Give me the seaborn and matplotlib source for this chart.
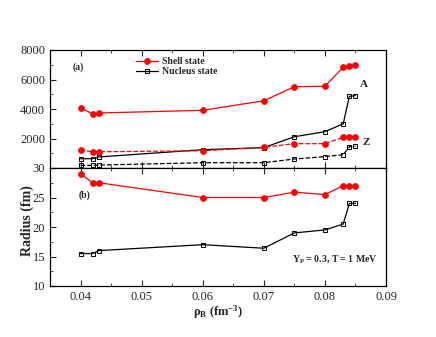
import numpy as np
import pandas as pd
import matplotlib
matplotlib.use("Agg")
import matplotlib.pyplot as plt
from matplotlib.ticker import MultipleLocator, FixedLocator
import seaborn as sns

# ---- data ----
rho_b = [0.040, 0.042, 0.043, 0.060, 0.070, 0.075, 0.080, 0.083, 0.084, 0.085]
shell_A = [4090, 3660, 3730, 3910, 4560, 5510, 5540, 6830, 6900, 7000]
shell_Z = [1220, 1100, 1100, 1170, 1400, 1650, 1650, 2080, 2100, 2100]
nucleus_A = [630, 630, 750, 1240, 1380, 2120, 2460, 3000, 4860, 4900]
nucleus_Z = [180, 180, 200, 360, 360, 610, 770, 900, 1440, 1470]
shell_radius = [29.0, 27.5, 27.5, 25.0, 25.0, 25.9, 25.5, 27.0, 27.0, 27.0]
nucleus_radius = [15.5, 15.5, 16.0, 17.0, 16.4, 19.0, 19.5, 20.5, 24.0, 24.0]
x_ticks = [0.04, 0.05, 0.06, 0.07, 0.08, 0.09]
top_yticks = [2000, 4000, 6000, 8000]
bot_yticks = [10, 15, 20, 25, 30]

sns.set_theme(style="ticks")
plt.rcParams['font.family'] = ['Liberation Serif', 'DejaVu Serif']
plt.rcParams['mathtext.fontset'] = 'custom'
plt.rcParams['mathtext.rm'] = 'Liberation Serif'
plt.rcParams['mathtext.bf'] = 'Liberation Serif:bold'
plt.rcParams['mathtext.it'] = 'Liberation Serif:italic'

fig = plt.figure(figsize=(4.36, 3.37), dpi=100)
ax1 = fig.add_axes([50/436, 1-168/337, 336/436, 118/337])
ax2 = fig.add_axes([50/436, 1-286/337, 336/436, 118/337])

RED = '#ff0000'
lw = 0.9
circ = dict(marker='o', markersize=4.3, markerfacecolor=RED, markeredgecolor=RED, markeredgewidth=0.5)
sq = dict(marker='s', markersize=3.4, markerfacecolor='none', markeredgecolor='black', markeredgewidth=0.7)

df = pd.DataFrame(dict(rho=rho_b, sA=shell_A, sZ=shell_Z, nA=nucleus_A, nZ=nucleus_Z,
                       sR=shell_radius, nR=nucleus_radius))

sns.lineplot(data=df, x='rho', y='sA', ax=ax1, color=RED, lw=lw, label='Shell state', **circ)
sns.lineplot(data=df, x='rho', y='nA', ax=ax1, color='black', lw=lw, label='Nucleus state', **sq)
sns.lineplot(data=df, x='rho', y='sZ', ax=ax1, color=RED, lw=lw, linestyle='--', **circ)
sns.lineplot(data=df, x='rho', y='nZ', ax=ax1, color='black', lw=lw, linestyle='--', **sq)

sns.lineplot(data=df, x='rho', y='sR', ax=ax2, color=RED, lw=lw, **circ)
sns.lineplot(data=df, x='rho', y='nR', ax=ax2, color='black', lw=lw, **sq)

for ax in (ax1, ax2):
    ax.set_xlim(0.035, 0.09)
    ax.xaxis.set_major_locator(FixedLocator(x_ticks))
    ax.xaxis.set_minor_locator(MultipleLocator(0.005))
    ax.tick_params(which='both', direction='in', top=True, right=False, labelsize=9)
    ax.tick_params(which='major', length=4, width=0.8)
    ax.tick_params(which='minor', length=2, width=0.6)
    for s in ax.spines.values():
        s.set_linewidth(0.9)
        s.set_color('black')
    ax.set_xlabel('')
    ax.set_ylabel('')

ax1.set_ylim(0, 8000)
ax1.yaxis.set_major_locator(FixedLocator(top_yticks))
ax1.yaxis.set_minor_locator(MultipleLocator(1000))
ax1.tick_params(labelbottom=False)

ax2.set_ylim(10, 30)
ax2.yaxis.set_major_locator(FixedLocator(bot_yticks))
ax2.yaxis.set_minor_locator(MultipleLocator(2.5))
ax2.set_xticklabels(['0.04', '0.05', '0.06', '0.07', '0.08', '0.09'])

leg = ax1.legend(loc='upper left', bbox_to_anchor=(0.24, 0.99), frameon=False,
                 prop=dict(weight='bold', size=7), handlelength=2.2,
                 handletextpad=0.4, labelspacing=0.15, borderaxespad=0.2)

ax1.text(0.068, 0.856, '(a)', transform=ax1.transAxes, fontsize=7, fontweight='bold', va='center')
ax1.text(0.935, 0.71, 'A', transform=ax1.transAxes, fontsize=8, fontweight='bold', va='center', ha='center')
ax1.text(0.94, 0.22, 'Z', transform=ax1.transAxes, fontsize=8, fontweight='bold', va='center', ha='center')
ax2.text(0.086, 0.77, '(b)', transform=ax2.transAxes, fontsize=7, fontweight='bold', va='center')
ax2.text(0.975, 0.23, r'$\mathbf{Y_P}$ = 0.3, T = 1 MeV', transform=ax2.transAxes,
         fontsize=7, fontweight='bold', ha='right', va='center')

fig.text(27/436, 1-221/337, 'Radius (fm)', rotation=90, ha='center', va='center',
         fontsize=10, fontweight='bold')
fig.text(218/436, 1-312/337, r'$\mathbf{\rho_B}$ (fm$^{\mathbf{-3}}$)', ha='center', va='center',
         fontsize=9, fontweight='bold')

fig.savefig('out.png', dpi=100)
